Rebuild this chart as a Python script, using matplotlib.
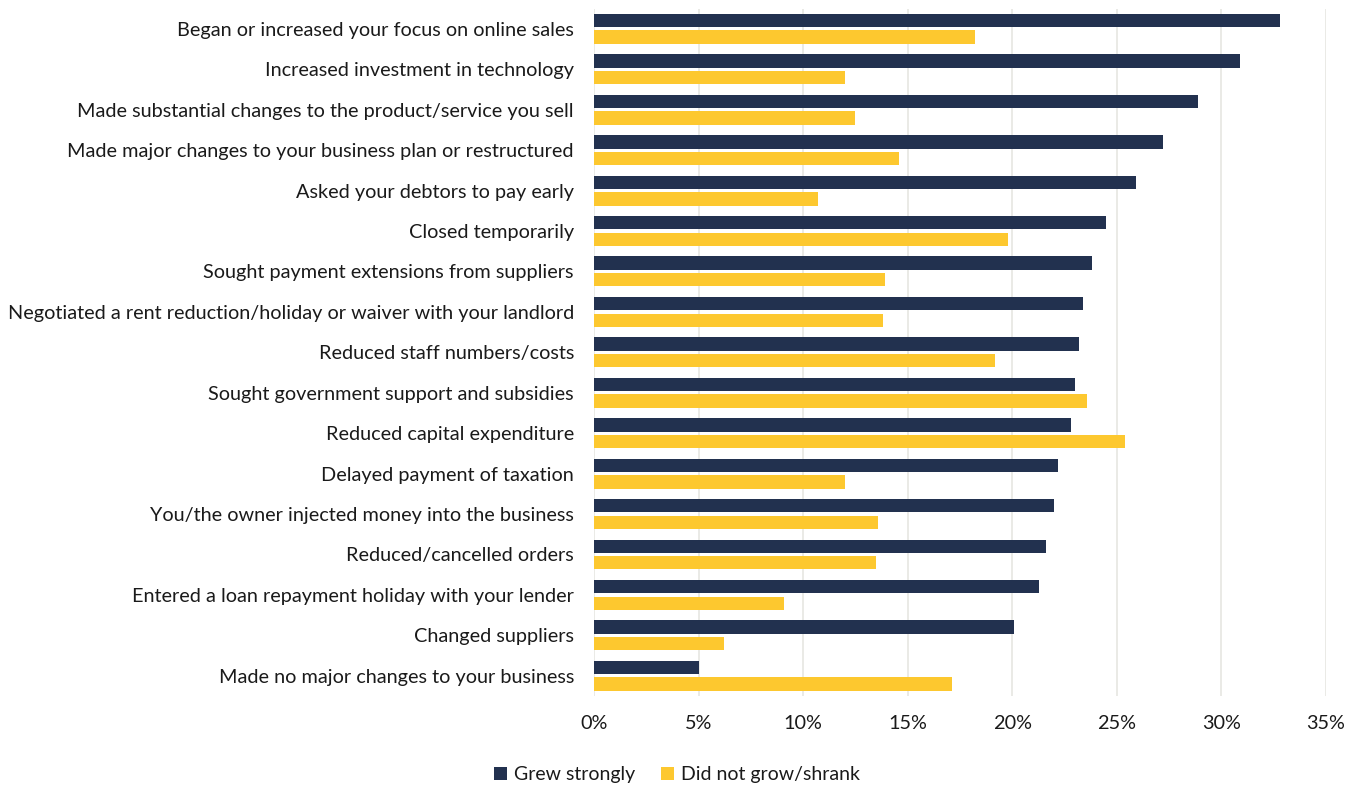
import matplotlib
matplotlib.use("Agg")
import matplotlib.pyplot as plt
import numpy as np
from matplotlib.ticker import FuncFormatter

plt.rcParams['font.family'] = ['Lato', 'DejaVu Sans']

# Actions taken by businesses, share of respondents
actions = [
    "Began or increased your focus on online sales",
    "Increased investment in technology",
    "Made substantial changes to the product/service you sell",
    "Made major changes to your business plan or restructured",
    "Asked your debtors to pay early",
    "Closed temporarily",
    "Sought payment extensions from suppliers",
    "Negotiated a rent reduction/holiday or waiver with your landlord",
    "Reduced staff numbers/costs",
    "Sought government support and subsidies",
    "Reduced capital expenditure",
    "Delayed payment of taxation",
    "You/the owner injected money into the business",
    "Reduced/cancelled orders",
    "Entered a loan repayment holiday with your lender",
    "Changed suppliers",
    "Made no major changes to your business",
]
grew_strongly = [32.8, 30.9, 28.9, 27.2, 25.9, 24.5, 23.8, 23.4, 23.2, 23.0,
                 22.8, 22.2, 22.0, 21.6, 21.3, 20.1, 5.0]
did_not_grow = [18.2, 12.0, 12.5, 14.6, 10.7, 19.8, 13.9, 13.8, 19.2, 23.6,
                25.4, 12.0, 13.6, 13.5, 9.1, 6.2, 17.1]

navy = '#22314f'
yellow = '#fdc82f'

fig = plt.figure(figsize=(13.54, 7.86), dpi=100)
ax = fig.add_axes([0.4387, 0.1145, 0.5405, 0.8745])

y = np.arange(len(actions))
h = 0.33
ax.barh(y - 0.205, grew_strongly, height=h, color=navy, label='Grew strongly', zorder=3)
ax.barh(y + 0.205, did_not_grow, height=h, color=yellow, label='Did not grow/shrank', zorder=3)

ax.set_ylim(len(actions) - 0.5, -0.5)
ax.set_xlim(0, 35)
ax.set_xticks(np.arange(0, 36, 5))
ax.xaxis.set_major_formatter(FuncFormatter(lambda v, p: f'{v:.0f}%'))
ax.set_yticks(y)
ax.set_yticklabels(actions)

ax.grid(axis='x', color='#e6e6e1', linewidth=1.2, zorder=0)
for s in ax.spines.values():
    s.set_visible(False)
ax.tick_params(axis='both', length=0, labelsize=14.3, colors='#1a1a1a')
ax.tick_params(axis='y', pad=14.4)
ax.tick_params(axis='x', pad=14)

# legend under the plot, centred on the figure
fig.legend(loc='lower center', bbox_to_anchor=(0.5, -0.019), ncol=2, frameon=False,
           fontsize=14, handlelength=0.7, handleheight=0.7, handletextpad=0.35,
           columnspacing=1.3, labelcolor='#1a1a1a')

fig.savefig('out.png', dpi=100)
